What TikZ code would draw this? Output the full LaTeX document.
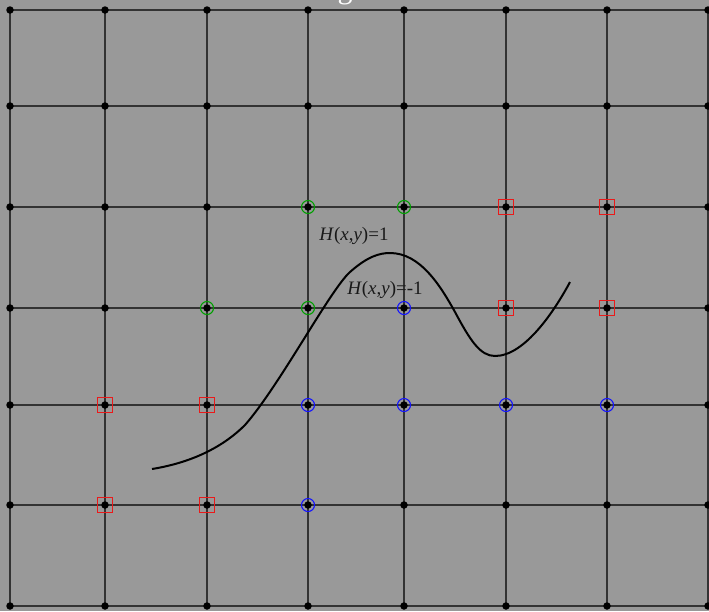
\documentclass[tikz,border=0pt]{standalone}
\usepackage{fontspec}
\setmainfont{Liberation Serif}
\definecolor{bgc}{RGB}{153,153,153}
\definecolor{gc}{RGB}{0,160,0}
\definecolor{bc}{RGB}{20,20,255}
\definecolor{rc}{RGB}{235,25,25}
\begin{document}
\begin{tikzpicture}[x=1pt,y=-1pt,
  gridline/.style={draw=black!80,line width=1.1pt},
  dot/.style={circle,fill=black,inner sep=0pt,minimum size=7.5pt},
  gmark/.style={circle,draw=gc,line width=1.1pt,inner sep=0pt,minimum size=13pt},
  bmark/.style={circle,draw=bc,line width=1.1pt,inner sep=0pt,minimum size=13pt},
  rmark/.style={rectangle,draw=rc,line width=1.2pt,inner sep=0pt,minimum size=15pt},
  curve/.style={draw=black,line width=2pt},
  lbl/.style={font=\fontsize{19}{21}\selectfont,text=black!90,inner sep=0pt,anchor=base}]
\useasboundingbox (0,0) rectangle (709,611);
\fill[bgc] (0,0) rectangle (709,611);
\clip (0,0) rectangle (709,611);
\node[text=white,font=\fontsize{30}{32}\selectfont,anchor=base,inner sep=0pt] (ttl) at (345,-2) {g};
\foreach \x [count=\i] in {10,105,207,308,404,506,607,708}
  \foreach \y [count=\j] in {10,106,207,308,405,505,606}
    \coordinate (p\i-\j) at (\x,\y);
\foreach \j in {1,...,7} \draw[gridline] (p1-\j) -- (p8-\j);
\foreach \i in {1,...,8} \draw[gridline] (p\i-1) -- (p\i-7);
% markers
\node[gmark] (g1) at (p4-3) {};
\node[gmark] (g2) at (p5-3) {};
\node[gmark] (g3) at (p3-4) {};
\node[gmark] (g4) at (p4-4) {};
\node[bmark] (b1) at (p5-4) {};
\node[bmark] (b2) at (p4-5) {};
\node[bmark] (b3) at (p5-5) {};
\node[bmark] (b4) at (p6-5) {};
\node[bmark] (b5) at (p7-5) {};
\node[bmark] (b6) at (p4-6) {};
\node[rmark] (r1) at (p6-3) {};
\node[rmark] (r2) at (p7-3) {};
\node[rmark] (r3) at (p6-4) {};
\node[rmark] (r4) at (p7-4) {};
\node[rmark] (r5) at (p2-5) {};
\node[rmark] (r6) at (p3-5) {};
\node[rmark] (r7) at (p2-6) {};
\node[rmark] (r8) at (p3-6) {};
\foreach \i in {1,...,8}
  \foreach \j in {1,...,7}
    \node[dot] (d\i-\j) at (p\i-\j) {};
% curve
\coordinate (c0) at (152,469);
\coordinate (c1) at (245,425);
\coordinate (c2) at (350,272);
\coordinate (c3) at (390,253);
\coordinate (c4) at (455,312);
\coordinate (c5) at (495,356);
\coordinate (c6) at (570,282);
\draw[curve] (c0) .. controls (195,462) and (225,445) .. (c1)
  .. controls (280,385) and (330,290) .. (c2)
  .. controls (368,256) and (380,253) .. (c3)
  .. controls (420,253) and (440,285) .. (c4)
  .. controls (470,340) and (480,356) .. (c5)
  .. controls (525,356) and (555,310) .. (c6);
\node[lbl] (h1) at (354,240) {\textit{H}(\textit{x},\textit{y})=1};
\node[lbl] (h2) at (385,294) {\textit{H}(\textit{x},\textit{y})=-1};
\end{tikzpicture}
\end{document}
